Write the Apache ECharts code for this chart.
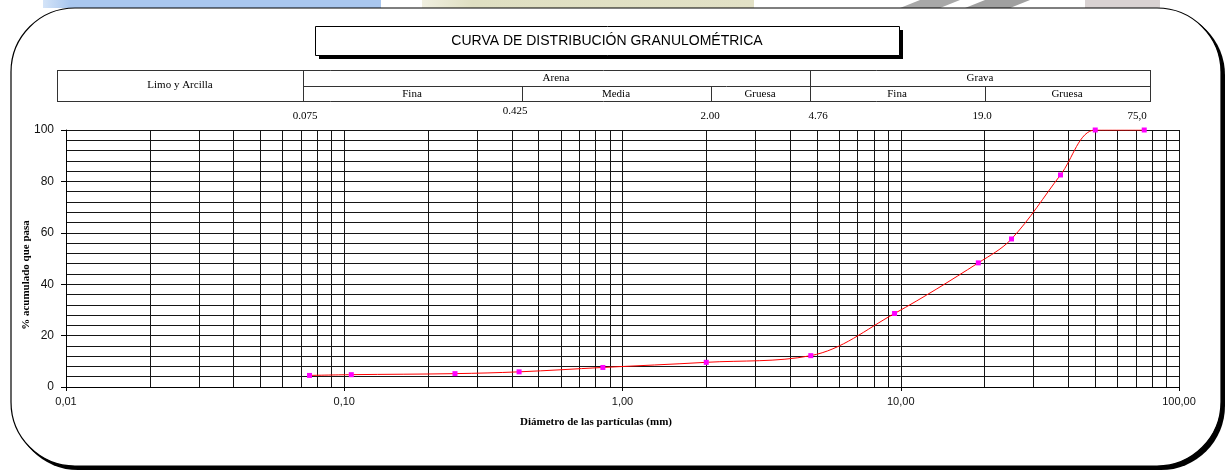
<!DOCTYPE html>
<html>
<head>
<meta charset="utf-8">
<script src="https://cdn.jsdelivr.net/npm/echarts@6/dist/echarts.min.js"></script>
<style>
  html, body { margin: 0; padding: 0; background: #fff; }
  #chart { width: 1226px; height: 471px; }
</style>
</head>
<body>
<div id="chart"></div>
<script>
// sieve openings (mm) and cumulative % passing
const sizes = [0.075, 0.106, 0.25, 0.425, 0.85, 2.0, 4.75, 9.5, 19.0, 25.0, 37.5, 50.0, 75.0];
const passing = [4.5, 4.8, 5.2, 5.9, 7.6, 9.6, 12.2, 28.6, 48.3, 57.6, 82.5, 100, 100];

// sieve marks printed above the plot
const sieveMarks = ['0.075', '0.425', '2.00', '4.76', '19.0', '75,0'];

const serif = '"Liberation Serif", "Times New Roman", serif';
const sans = '"Liberation Sans", Arial, sans-serif';
const gridColor = '#151515';

// minor log gridlines 2..9 in each decade
let minorLines = [];
for (let d = 0.01; d < 100; d *= 10) {
    for (let k = 2; k <= 9; k++) {
        minorLines.push({ xAxis: +(k * d).toPrecision(3) });
    }
}

function txt(x, y, text, font) {
    return {
        type: 'text', z: 10,
        style: { x: x, y: y, text: text, font: font, fill: '#000', textAlign: 'center', textVerticalAlign: 'middle' }
    };
}
function hline(x1, x2, y) {
    return { type: 'line', z: 10, shape: { x1: x1, y1: y, x2: x2, y2: y }, style: { stroke: '#333', lineWidth: 1 } };
}
function vline(x, y1, y2) {
    return { type: 'line', z: 10, shape: { x1: x, y1: y1, x2: x, y2: y2 }, style: { stroke: '#333', lineWidth: 1 } };
}

// header table (pixel layout of the classification bands)
let table = [
    hline(57, 1150, 70.5), hline(303, 1150, 86.5), hline(57, 1150, 101.5),
    vline(57.5, 70, 102), vline(303.5, 70, 102), vline(810.5, 70, 102), vline(1150.5, 70, 102),
    vline(522.5, 86, 102), vline(711.5, 86, 102), vline(985.5, 86, 102),
    txt(180, 85, 'Limo y Arcilla', '11px ' + serif),
    txt(556, 78.5, 'Arena', '11px ' + serif),
    txt(980, 78.5, 'Grava', '11px ' + serif),
    txt(412, 94.5, 'Fina', '11px ' + serif),
    txt(616, 94.5, 'Media', '11px ' + serif),
    txt(760, 94.5, 'Gruesa', '11px ' + serif),
    txt(897, 94.5, 'Fina', '11px ' + serif),
    txt(1067, 94.5, 'Gruesa', '11px ' + serif)
];
const markPos = [[305, 116], [515, 111], [710, 116], [818, 116], [982, 116], [1137, 116]];
sieveMarks.forEach((t, i) => table.push(txt(markPos[i][0], markPos[i][1], t, '11px ' + serif)));

let decor = [
    // strip of the page background above the frame
    { type: 'rect', z: -5, shape: { x: 43, y: 0, width: 338, height: 8 },
      style: { fill: new echarts.graphic.LinearGradient(0, 0, 1, 0, [{ offset: 0, color: '#d4e4f8' }, { offset: 0.08, color: '#a9c7ef' }, { offset: 1, color: '#a9c7ef' }]) } },
    { type: 'rect', z: -5, shape: { x: 422, y: 0, width: 332, height: 8 },
      style: { fill: new echarts.graphic.LinearGradient(0, 0, 1, 0, [{ offset: 0, color: '#f0efe0' }, { offset: 0.15, color: '#dfdfc2' }, { offset: 1, color: '#e2e1c6' }]) } },
    { type: 'polygon', z: -5, shape: { points: [[900, 8], [920, 0], [960, 0], [940, 8]] }, style: { fill: '#a8a8a8' } },
    { type: 'polygon', z: -5, shape: { points: [[965, 8], [985, 0], [1030, 0], [1010, 8]] }, style: { fill: '#a0a0a0' } },
    { type: 'rect', z: -5, shape: { x: 1085, y: 0, width: 75, height: 8 }, style: { fill: '#d9d2d2' } },
    // rounded frame with drop shadow
    { type: 'rect', z: -4, shape: { x: 14, y: 11, width: 1211, height: 459, r: 64 }, style: { fill: '#000' } },
    { type: 'rect', z: -3, shape: { x: 11, y: 8, width: 1210, height: 458, r: 64 }, style: { fill: '#fff', stroke: '#000', lineWidth: 1.2 } },
    // title box
    { type: 'rect', z: 9, shape: { x: 319, y: 30, width: 584, height: 29 }, style: { fill: '#000' } },
    { type: 'rect', z: 9, shape: { x: 315.5, y: 26.5, width: 584, height: 29 }, style: { fill: '#fff', stroke: '#000', lineWidth: 1 } },
    txt(607, 41, 'CURVA DE DISTRIBUCIÓN GRANULOMÉTRICA', '14px ' + sans),
    // axis names
    txt(596, 422, 'Diámetro de las partículas (mm)', 'bold 11px ' + serif),
    { type: 'text', z: 10, x: 26, y: 275, rotation: Math.PI / 2,
      style: { x: 0, y: 0, text: '% acumulado que pasa', font: 'bold 11px ' + serif, fill: '#000', textAlign: 'center', textVerticalAlign: 'middle' } }
];

let chart = echarts.init(document.getElementById('chart'));
let option = {
    animation: false,
    backgroundColor: '#fff',
    grid: { left: 66, right: 47, top: 130, bottom: 84, show: false },
    xAxis: {
        type: 'log', logBase: 10, min: 0.01, max: 100,
        axisLine: { lineStyle: { color: '#000', width: 1 } },
        axisTick: { show: true, length: 4, lineStyle: { color: '#000' } },
        axisLabel: { margin: 9, fontFamily: sans, fontSize: 11, color: '#111', formatter: v => v.toFixed(2).replace('.', ',') },
        splitLine: { show: true, lineStyle: { color: gridColor, width: 1 } }
    },
    yAxis: [
        {
            type: 'value', min: 0, max: 100, interval: 4,
            axisLine: { show: false }, axisTick: { show: false }, axisLabel: { show: false },
            splitLine: { show: true, lineStyle: { color: gridColor, width: 1 } }
        },
        {
            type: 'value', min: 0, max: 100, interval: 20, position: 'left',
            axisLine: { show: true, lineStyle: { color: '#000', width: 1 } },
            axisTick: { show: true, length: 5, lineStyle: { color: '#000' } },
            axisLabel: { margin: 12, fontFamily: sans, fontSize: 12, color: '#111' },
            splitLine: { show: false }
        }
    ],
    series: [
        {
            type: 'line', z: 1, data: [], silent: true,
            markLine: {
                silent: true, z: 1, animation: false, symbol: ['none', 'none'],
                label: { show: false },
                lineStyle: { type: 'solid', color: gridColor, width: 1 },
                emphasis: { disabled: true },
                data: minorLines
            }
        },
        {
            type: 'line', z: 5, yAxisIndex: 0,
            data: sizes.map((s, i) => [s, passing[i]]),
            smooth: 0.35,
            symbol: 'rect', symbolSize: 5,
            lineStyle: { color: '#ff0000', width: 1 },
            itemStyle: { color: '#ff00ff' }
        }
    ],
    graphic: decor.concat(table)
};
chart.setOption(option);
</script>
</body>
</html>
